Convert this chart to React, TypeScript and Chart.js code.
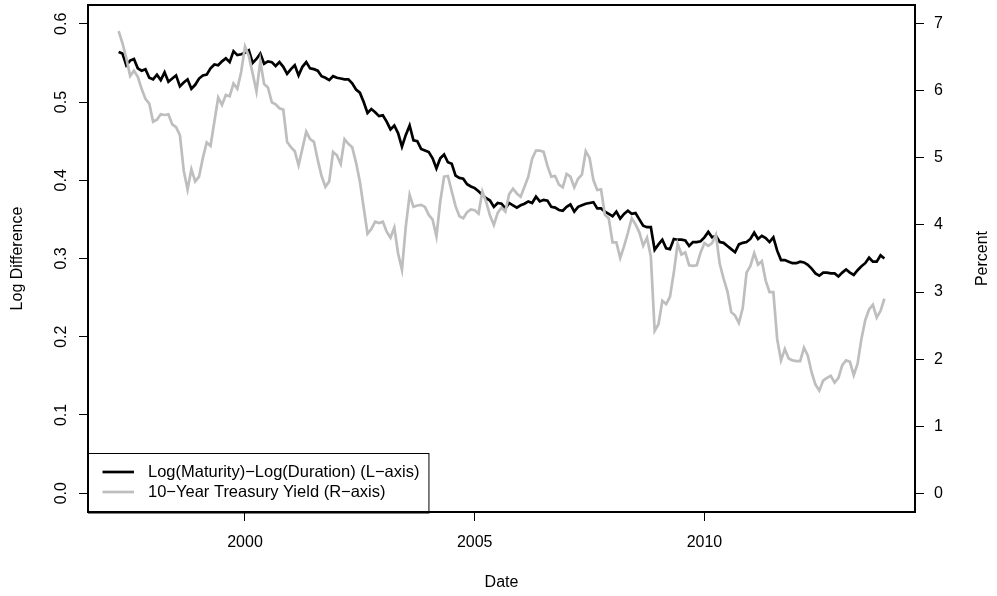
import React, { useEffect, useRef } from 'react';
import { Chart, registerables } from 'chart.js';

Chart.register(...registerables);

// Monthly observations, April 1997 .. December 2013
const START_YEAR = 1997;
const START_MONTH = 4;

const logDiff = [
  0.564, 0.562, 0.547, 0.553, 0.555, 0.543, 0.540, 0.542, 0.531, 0.529,
  0.535, 0.528, 0.538, 0.526, 0.530, 0.534, 0.520, 0.525, 0.529, 0.517,
  0.522, 0.530, 0.534, 0.535, 0.543, 0.548, 0.547, 0.552, 0.556, 0.551,
  0.565, 0.560, 0.561, 0.563, 0.566, 0.550, 0.555, 0.562, 0.549, 0.552,
  0.551, 0.546, 0.551, 0.545, 0.536, 0.542, 0.547, 0.534, 0.545, 0.551,
  0.543, 0.542, 0.540, 0.533, 0.531, 0.528, 0.533, 0.531, 0.530, 0.529,
  0.529, 0.524, 0.516, 0.512, 0.500, 0.486, 0.491, 0.487, 0.482, 0.483,
  0.475, 0.465, 0.470, 0.460, 0.443, 0.458, 0.470, 0.451, 0.450, 0.440,
  0.438, 0.436, 0.428, 0.415, 0.428, 0.433, 0.423, 0.421, 0.406, 0.403,
  0.402, 0.395, 0.392, 0.390, 0.386, 0.381, 0.377, 0.374, 0.366, 0.371,
  0.370, 0.364, 0.371, 0.368, 0.365, 0.368, 0.370, 0.373, 0.371, 0.379,
  0.373, 0.375, 0.374, 0.366, 0.365, 0.362, 0.361, 0.366, 0.369, 0.360,
  0.366, 0.368, 0.370, 0.371, 0.372, 0.364, 0.364, 0.360, 0.357, 0.354,
  0.360, 0.351, 0.357, 0.361, 0.357, 0.358, 0.350, 0.342, 0.340, 0.340,
  0.311, 0.318, 0.324, 0.313, 0.312, 0.325, 0.324, 0.324, 0.323, 0.316,
  0.321, 0.321, 0.322, 0.327, 0.334, 0.327, 0.329, 0.321, 0.320, 0.316,
  0.312, 0.308, 0.318, 0.320, 0.321, 0.325, 0.333, 0.325, 0.329, 0.326,
  0.321, 0.327, 0.310, 0.298, 0.298, 0.296, 0.294, 0.294, 0.296, 0.295,
  0.292, 0.287, 0.281, 0.278, 0.282, 0.282, 0.281, 0.281, 0.277, 0.282,
  0.286, 0.282, 0.279, 0.285, 0.290, 0.294, 0.301, 0.296, 0.296, 0.304,
  0.300,
];

const treasury = [
  6.89, 6.71, 6.49, 6.22, 6.30, 6.21, 6.03, 5.88, 5.81,
  5.54, 5.57, 5.65, 5.64, 5.65, 5.50, 5.46, 5.34, 4.81, 4.53, 4.83, 4.65,
  4.72, 5.00, 5.23, 5.18, 5.54, 5.90, 5.79, 5.94, 5.92, 6.11, 6.03, 6.28,
  6.66, 6.52, 6.26, 5.99, 6.44, 6.10, 6.05, 5.83, 5.80, 5.74, 5.72, 5.24,
  5.16, 5.10, 4.89, 5.14, 5.39, 5.28, 5.24, 4.97, 4.73, 4.57, 4.65, 5.09,
  5.04, 4.91, 5.28, 5.21, 5.16, 4.93, 4.65, 4.26, 3.87, 3.94, 4.05, 4.03,
  4.05, 3.90, 3.81, 3.96, 3.57, 3.33, 3.98, 4.45, 4.27, 4.29, 4.30, 4.27,
  4.15, 4.08, 3.83, 4.35, 4.72, 4.73, 4.50, 4.28, 4.13, 4.10, 4.19, 4.23,
  4.22, 4.17, 4.50, 4.34, 4.14, 4.00, 4.18, 4.26, 4.20, 4.46, 4.54, 4.47,
  4.42, 4.57, 4.72, 4.99, 5.11, 5.11, 5.09, 4.88, 4.72, 4.73, 4.60, 4.56,
  4.76, 4.72, 4.56, 4.69, 4.75, 5.10, 5.00, 4.67, 4.52, 4.53, 4.15, 4.10,
  3.74, 3.74, 3.51, 3.68, 3.88, 4.10, 4.01, 3.89, 3.69, 3.81, 3.53, 2.42,
  2.52, 2.87, 2.82, 2.93, 3.29, 3.72, 3.56, 3.59, 3.40, 3.39, 3.40, 3.59,
  3.73, 3.69, 3.73, 3.85, 3.42, 3.20, 3.01, 2.70, 2.65, 2.54, 2.76, 3.29,
  3.39, 3.58, 3.41, 3.46, 3.17, 3.00, 3.00, 2.30, 1.98, 2.15, 2.01, 1.98,
  1.97, 1.97, 2.17, 2.05, 1.80, 1.62, 1.53, 1.68, 1.72, 1.75, 1.65, 1.72,
  1.91, 1.98, 1.96, 1.76, 1.93, 2.30, 2.58, 2.74, 2.81, 2.62, 2.72, 2.90,
];

const xTicks = [2000, 2005, 2010];
const leftTicks = [0, 0.1, 0.2, 0.3, 0.4, 0.5, 0.6];
const rightTicks = [0, 1, 2, 3, 4, 5, 6, 7];
const xRange = [1996.583, 2014.583];
const leftRange = [-0.024, 0.624];
const rightRange = [-0.28, 7.28];

const seriesLabels = [
  'Log(Maturity)\u2212Log(Duration) (L\u2212axis)',
  '10\u2212Year Treasury Yield (R\u2212axis)',
];
const seriesColors = ['#000000', '#bebebe'];

const FONT = '"Liberation Sans", Arial, Helvetica, sans-serif';

const dateOf = (i: number) => START_YEAR + (START_MONTH - 1) / 12 + i / 12;

const rStylePlugin = {
  id: 'rstyle',
  afterDraw(chart: any) {
    const { ctx, chartArea: ca, scales } = chart;
    ctx.save();
    ctx.fillStyle = '#000';
    ctx.font = `16px ${FONT}`;

    // left axis tick labels, rotated like R (las = 0)
    const yl = scales.yL;
    ctx.textAlign = 'center';
    ctx.textBaseline = 'alphabetic';
    leftTicks.forEach((v) => {
      const py = yl.getPixelForValue(v);
      ctx.save();
      ctx.translate(66, py);
      ctx.rotate(-Math.PI / 2);
      ctx.fillText(v.toFixed(1), 0, 0);
      ctx.restore();
    });

    // right axis title, reading upward
    ctx.save();
    ctx.translate(chart.width - 10, (ca.top + ca.bottom) / 2);
    ctx.rotate(-Math.PI / 2);
    ctx.fillText('Percent', 0, 0);
    ctx.restore();

    // legend (bottom left)
    ctx.font = `16.5px ${FONT}`;
    const tw = Math.max(...seriesLabels.map((l) => ctx.measureText(l).width));
    const textX = ca.left + 60;
    const boxRight = textX + tw + 9;
    const boxTop = ca.bottom - 59.5;
    ctx.fillStyle = '#fff';
    ctx.fillRect(ca.left, boxTop, boxRight - ca.left, ca.bottom - boxTop);
    ctx.strokeStyle = '#000';
    ctx.lineWidth = 1;
    ctx.strokeRect(ca.left + 0.5, Math.round(boxTop) + 0.5, boxRight - ca.left, ca.bottom - boxTop);
    seriesLabels.forEach((label, i) => {
      const y = ca.bottom - 40 + i * 20;
      ctx.strokeStyle = seriesColors[i];
      ctx.lineWidth = 2.7;
      ctx.beginPath();
      ctx.moveTo(ca.left + 14.5, y);
      ctx.lineTo(ca.left + 46, y);
      ctx.stroke();
      ctx.fillStyle = '#000';
      ctx.textAlign = 'left';
      ctx.textBaseline = 'middle';
      ctx.fillText(label, textX, y);
    });

    // plot frame
    ctx.strokeStyle = '#000';
    ctx.lineWidth = 2;
    ctx.strokeRect(ca.left, ca.top, ca.right - ca.left, ca.bottom - ca.top);
    ctx.restore();
  },
};

const tickGrid = {
  display: true,
  drawOnChartArea: false,
  drawTicks: true,
  tickLength: 9,
  color: '#000',
  tickColor: '#000',
  lineWidth: 1,
};

const zeroPad = (s: any) => {
  s.paddingTop = 0;
  s.paddingBottom = 0;
  s.paddingLeft = 0;
  s.paddingRight = 0;
};

export default function App() {
  const ref = useRef<HTMLCanvasElement>(null);

  useEffect(() => {
    if (!ref.current) return;
    const chart = new Chart(ref.current, {
      type: 'line',
      data: {
        datasets: [
          {
            label: seriesLabels[0],
            data: logDiff.map((v, i) => ({ x: dateOf(i), y: v })),
            borderColor: seriesColors[0],
            borderWidth: 2.7,
            yAxisID: 'yL',
            order: 1,
          },
          {
            label: seriesLabels[1],
            data: treasury.map((v, i) => ({ x: dateOf(i), y: v })),
            borderColor: seriesColors[1],
            borderWidth: 2.7,
            yAxisID: 'yR',
            order: 0,
          },
        ],
      },
      options: {
        animation: false,
        responsive: false,
        layout: { padding: { top: 5, left: 0, right: 0, bottom: 0 } },
        elements: { point: { radius: 0 }, line: { tension: 0 } },
        plugins: { legend: { display: false }, tooltip: { enabled: false } },
        scales: {
          x: {
            type: 'linear',
            position: 'bottom',
            min: xRange[0],
            max: xRange[1],
            afterBuildTicks: (s: any) => {
              s.ticks = xTicks.map((v) => ({ value: v }));
            },
            afterFit: (s: any) => {
              s.height = 84;
              zeroPad(s);
            },
            grid: tickGrid,
            border: { display: false },
            ticks: {
              color: '#000',
              font: { family: FONT, size: 16 },
              padding: 12,
              maxRotation: 0,
              autoSkip: false,
              callback: (v: any) => String(v),
            },
            title: {
              display: true,
              text: 'Date',
              color: '#000',
              font: { family: FONT, size: 16 },
              padding: { top: 0, bottom: 4 },
            },
          },
          yL: {
            type: 'linear',
            position: 'left',
            min: leftRange[0],
            max: leftRange[1],
            afterBuildTicks: (s: any) => {
              s.ticks = leftTicks.map((v) => ({ value: v }));
            },
            afterFit: (s: any) => {
              s.width = 88;
              zeroPad(s);
            },
            grid: tickGrid,
            border: { display: false },
            ticks: { display: false },
            title: {
              display: true,
              text: 'Log Difference',
              color: '#000',
              font: { family: FONT, size: 16 },
              padding: { top: 8, bottom: 0 },
            },
          },
          yR: {
            type: 'linear',
            position: 'right',
            min: rightRange[0],
            max: rightRange[1],
            afterBuildTicks: (s: any) => {
              s.ticks = rightTicks.map((v) => ({ value: v }));
            },
            afterFit: (s: any) => {
              s.width = 82;
              zeroPad(s);
            },
            grid: tickGrid,
            border: { display: false },
            ticks: {
              color: '#000',
              font: { family: FONT, size: 16 },
              padding: 10,
              callback: (v: any) => String(v),
            },
          },
        },
      },
      plugins: [rStylePlugin],
    } as any);
    return () => chart.destroy();
  }, []);

  return (
    <div style={{ position: 'absolute', left: 0, top: 0, width: 997, height: 596, background: '#fff' }}>
      <canvas ref={ref} width={997} height={596} style={{ display: 'block', width: 997, height: 596 }} />
    </div>
  );
}
